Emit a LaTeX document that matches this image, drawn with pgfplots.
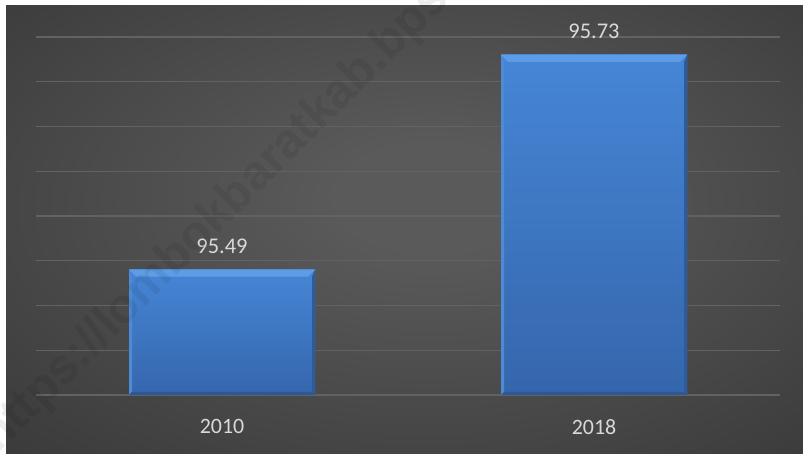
\documentclass[border=0pt]{standalone}
\usepackage{fontspec}
\setmainfont{Carlito}
\newfontfamily\wmfont{Liberation Sans}
\usepackage{pgfplots}
\pgfplotsset{compat=1.18}

\definecolor{lbl}{HTML}{D9D9D9}
\definecolor{gridc}{HTML}{626262}
\definecolor{basec}{HTML}{BFBFBF}
\definecolor{bgc}{HTML}{5A5A5A}
\definecolor{bge}{HTML}{2E2E2E}
\definecolor{bgk}{HTML}{252525}
\definecolor{bartop}{HTML}{4686D6}
\definecolor{barbot}{HTML}{3566AC}
\definecolor{bevtop}{HTML}{5E9DE6}
\definecolor{bevleft}{HTML}{4D8BD9}
\definecolor{bevright}{HTML}{2D5B9B}
\definecolor{bevbot}{HTML}{2D5896}

\pgfdeclareradialshading{bgshade}{\pgfpoint{2bp}{4bp}}{%
  color(0bp)=(bgc); color(6bp)=(bgc); color(50bp)=(bge); color(72bp)=(bgk)}

% bevelled look of the bars, drawn with basic-layer paths inside each bar
\newcommand\ppa[3]{\pgfpointadd{\pgfpointanchor{path picture bounding box}{#1}}{\pgfpoint{#2}{#3}}}
\newcommand\bevpiece[5]{% colour, then four corner points
  \pgfsetfillcolor{#1}%
  \pgfpathmoveto{#2}\pgfpathlineto{#3}\pgfpathlineto{#4}\pgfpathlineto{#5}%
  \pgfpathclose\pgfusepath{fill}}
\tikzset{
  bevel/.style={
    path picture={%
      \bevpiece{bevtop}{\ppa{north west}{0bp}{0bp}}{\ppa{north east}{0bp}{0bp}}{\ppa{north east}{-7bp}{-7bp}}{\ppa{north west}{7bp}{-7bp}}%
      \bevpiece{bevleft}{\ppa{north west}{0bp}{0bp}}{\ppa{north west}{3bp}{-7bp}}{\ppa{south west}{3bp}{3bp}}{\ppa{south west}{0bp}{0bp}}%
      \bevpiece{bevright}{\ppa{north east}{0bp}{0bp}}{\ppa{north east}{-3bp}{-7bp}}{\ppa{south east}{-3bp}{3bp}}{\ppa{south east}{0bp}{0bp}}%
      \bevpiece{bevbot}{\ppa{south west}{0bp}{0bp}}{\ppa{south west}{3bp}{3bp}}{\ppa{south east}{-3bp}{3bp}}{\ppa{south east}{0bp}{0bp}}%
    }
  },
  barstyle/.style={draw=none, top color=bartop, bottom color=barbot, bevel}
}

\begin{document}
\begin{tikzpicture}[x=1bp,y=1bp]
\useasboundingbox (0,0) rectangle (803,454);
\fill[white] (0,0) rectangle (803,454);
\shade[shading=bgshade] (6,0) rectangle (803,448);

\begin{axis}[
    at={(36bp,59bp)}, anchor=south west,
    scale only axis,
    width=744bp, height=358bp,
    xmin=-0.5, xmax=1.5,
    ymin=95.35, ymax=95.75,
    axis line style={draw=none},
    tick style={draw=none},
    xtick={0,1},
    xticklabels={2010,2018},
    xticklabel style={font=\fontsize{22}{26}\selectfont, color=lbl, inner sep=0pt, anchor=north, yshift=-24bp},
    ytick={95.40,95.45,95.50,95.55,95.60,95.65,95.70,95.75},
    yticklabels={},
    ymajorgrids,
    major grid style={color=gridc, line width=1.3bp},
    extra y ticks={95.35},
    extra y tick labels={},
    extra y tick style={grid style={color=basec, line width=2bp}},
    /pgf/number format/assume math mode=true,
    clip=false,
]
% bars, base at 95.35
\addplot[barstyle] coordinates {(-0.25,95.35) (-0.25,95.49) (0.25,95.49) (0.25,95.35)} -- cycle;
\addplot[barstyle] coordinates {(0.75,95.35) (0.75,95.73) (1.25,95.73) (1.25,95.35)} -- cycle;
% value labels
\addplot[draw=none, mark=none, point meta=y,
    nodes near coords={\pgfmathprintnumber[fixed,precision=2,fixed zerofill,assume math mode=true]{\pgfplotspointmeta}},
    nodes near coords style={anchor=south, inner sep=0pt, yshift=16bp,
        font=\fontsize{22.5}{26}\selectfont, color=lbl},
] coordinates {(0,95.49) (1,95.73)};
\end{axis}

\node[rotate=45, anchor=base west, inner sep=0pt, opacity=0.07, text=black,
      font=\wmfont\bfseries\fontsize{49}{53}\selectfont] at (-2,0) {https://lombokbaratkab.bps.go.id};
\end{tikzpicture}
\end{document}
